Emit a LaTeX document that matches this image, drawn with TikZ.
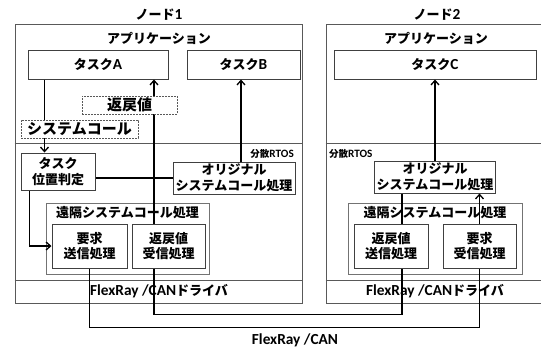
\documentclass[tikz,border=0pt]{standalone}
\usepackage{fontspec}
\setmainfont{Noto Sans CJK JP}
\newfontfamily\latfont{Carlito}[Scale=1.18]
\newcommand\lat[1]{{\latfont\bfseries #1}}
\newcommand\mainsz{\fontsize{13}{15.5}\selectfont\bfseries}
\newcommand\bigsz{\fontsize{15}{17}\selectfont\bfseries}
\newcommand\smallsz{\fontsize{9.5}{11}\selectfont\bfseries}
\usetikzlibrary{arrows.meta}
\tikzset{
  box/.style={draw=black!75, line width=1pt, inner sep=0pt, align=center, font=\mainsz},
  framebox/.style={draw=black!65, line width=1pt, inner sep=0pt},
  remotebox/.style={draw=black!55, line width=1pt, inner sep=0pt},
  dbox/.style={draw=black!65, line width=0.9pt, dash pattern=on 2pt off 1pt, fill=white, inner sep=0pt, font=\bigsz},
  txt/.style={inner sep=0pt, font=\mainsz, align=center},
  conn/.style={line width=1.5pt, black},
  arr/.style={-{Straight Barb[length=4.5pt,width=8pt,line width=1.3pt]}},
  divider/.style={draw=black!65, line width=1pt}
}
\begin{document}
\begin{tikzpicture}[x=1pt,y=-1pt]
\useasboundingbox (0,0) rectangle (541,349);
% frames
\node[framebox, minimum width=287pt, minimum height=279pt] (n1) at (158.5,163.5) {};
\node[framebox, minimum width=224pt, minimum height=279pt] (n2) at (438,163.5) {};
\coordinate (d1) at (0,143);
\coordinate (d2) at (0,280);
\draw[divider] (n1.west |- d1) -- (n1.east |- d1);
\draw[divider] (n1.west |- d2) -- (n1.east |- d2);
\draw[divider] (n2.west |- d1) -- (n2.east |- d1);
\draw[divider] (n2.west |- d2) -- (n2.east |- d2);
% titles
\node[txt] (t1) at (159,15) {ノード\lat{1}};
\node[txt] (t2) at (437,15) {ノード\lat{2}};
\node[txt] (app1) at (159,38) {アプリケーション};
\node[txt] (app2) at (436,38) {アプリケーション};
\node[txt, font=\smallsz, anchor=east] (rtos1) at (294,154) {分散\lat{RTOS}};
\node[txt, font=\smallsz, anchor=west] (rtos2) at (329,154) {分散\lat{RTOS}};
\node[txt] (drv1) at (159,291.5) {\lat{FlexRay /CAN}ドライバ};
\node[txt] (drv2) at (435,291.5) {\lat{FlexRay /CAN}ドライバ};
\node[txt] (bus) at (295,340) {\lat{FlexRay /CAN}};
% node 1 boxes
\node[box, minimum width=140pt, minimum height=29pt] (taskA) at (98,64.5) {タスク\lat{A}};
\node[box, minimum width=113pt, minimum height=29pt] (taskB) at (243.5,64.5) {タスク\lat{B}};
\node[box, minimum width=74pt, minimum height=37pt] (loc) at (58,171.5) {タスク\\位置判定};
\node[box, minimum width=122pt, minimum height=32pt] (orig1) at (234,178) {オリジナル\\システムコール処理};
\node[remotebox, minimum width=163pt, minimum height=71pt] (remote1) at (127.5,238.5) {};
\node[txt, anchor=north] (remote1l) at ([yshift=-4pt]remote1.north) {遠隔システムコール処理};
\node[box, minimum width=75pt, minimum height=44pt] (reqsend) at (89.5,246) {要求\\送信処理};
\node[box, minimum width=73pt, minimum height=44pt] (retrecv) at (168.5,246) {返戻値\\受信処理};
% node 2 boxes
\node[box, minimum width=202pt, minimum height=29pt] (taskC) at (435,64.5) {タスク\lat{C}};
\node[box, minimum width=121pt, minimum height=32pt] (orig2) at (435,177) {オリジナル\\システムコール処理};
\node[remotebox, minimum width=174pt, minimum height=71pt] (remote2) at (435,238.5) {};
\node[txt, anchor=north] (remote2l) at ([yshift=-4pt]remote2.north) {遠隔システムコール処理};
\node[box, minimum width=74pt, minimum height=44pt] (retsend) at (391,246) {返戻値\\送信処理};
\node[box, minimum width=73pt, minimum height=44pt] (reqrecv) at (479.5,246) {要求\\受信処理};
% connectors
\draw[conn,arr] ([xshift=17pt]taskA.south west) -- ([xshift=17pt]taskA.south west |- loc.north);
\draw[conn,arr] ([xshift=-14.5pt]retrecv.north) -- ([xshift=-14.5pt]retrecv.north |- taskA.south);
\draw[conn,arr] ([xshift=7pt]orig1.north) -- ([xshift=7pt]orig1.north |- taskB.south);
\draw[conn] (orig1.west -| loc.east) -- (orig1.west);
\draw[conn,arr] ([xshift=9pt]loc.south west) |- (reqsend.west);
\draw[conn] (reqsend.south) -- ++(0,59) -| (reqrecv.south);
\draw[conn] ([xshift=-14.5pt]retrecv.south) -- ++(0,46) -| ([xshift=11pt]retsend.south);
\draw[conn,arr] (orig2.north) -- (taskC.south);
\draw[conn] ([xshift=-33pt]orig2.south) -- ([xshift=11pt]retsend.north);
\draw[conn,arr] (reqrecv.north) -- (reqrecv.north |- orig2.south);
% dashed labels
\node[dbox, minimum width=95pt, minimum height=18pt] (retval) at (129.5,105) {返戻値};
\node[dbox, minimum width=117pt, minimum height=18pt] (syscall) at (79.5,129) {システムコール};
\end{tikzpicture}
\end{document}
